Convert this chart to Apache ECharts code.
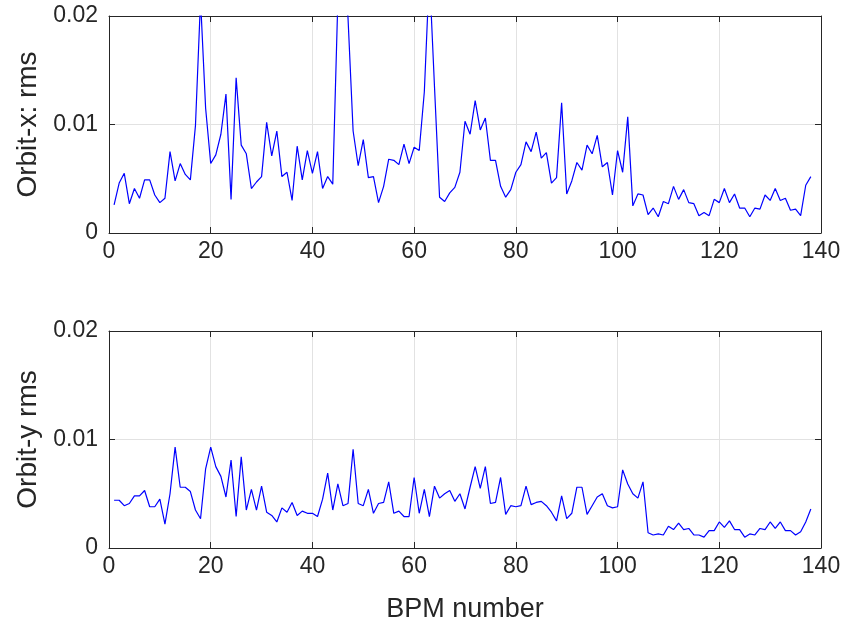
<!DOCTYPE html>
<html>
<head>
<meta charset="utf-8">
<script src="https://cdn.jsdelivr.net/npm/echarts@6/dist/echarts.min.js"></script>
<style>
html,body{margin:0;padding:0;background:#fff;}
#chart{width:857px;height:627px;}
</style>
</head>
<body>
<div id="chart"></div>
<script>
// BPM index runs 1..138 (one value per BPM)
var orbitX = [
0.0026,0.0046,0.0055,0.0027,0.0041,0.0032,0.0049,0.0049,0.0035,0.0028,
0.0032,0.0075,0.0048,0.0064,0.0054,0.0049,0.0099,0.0215,0.0115,0.0064,
0.0072,0.0091,0.0128,0.0031,0.0143,0.0081,0.0073,0.0041,0.0047,0.0052,
0.0102,0.0071,0.0094,0.0052,0.0056,0.0030,0.0080,0.0049,0.0076,0.0055,
0.0075,0.0041,0.0052,0.0045,0.0215,0.0260,0.0198,0.0094,0.0062,0.0086,
0.0051,0.0052,0.0028,0.0043,0.0068,0.0067,0.0063,0.0082,0.0064,0.0079,
0.0076,0.0130,0.0240,0.0135,0.0033,0.0029,0.0037,0.0042,0.0056,0.0103,
0.0091,0.0122,0.0095,0.0106,0.0067,0.0067,0.0043,0.0033,0.0040,0.0056,
0.0063,0.0084,0.0075,0.0093,0.0069,0.0074,0.0046,0.0051,0.0120,0.0036,
0.0048,0.0065,0.0058,0.0081,0.0073,0.0090,0.0061,0.0065,0.0035,0.0076,
0.0056,0.0107,0.0025,0.0036,0.0035,0.0017,0.0023,0.0015,0.0029,0.0027,
0.0043,0.0031,0.0040,0.0028,0.0027,0.0016,0.0019,0.0016,0.0031,0.0028,
0.0041,0.0028,0.0036,0.0023,0.0023,0.0015,0.0023,0.0022,0.0035,0.0030,
0.0041,0.0030,0.0032,0.0021,0.0022,0.0016,0.0044,0.0052
];
var orbitY = [
0.0044,0.0044,0.0039,0.0041,0.0048,0.0048,0.0053,0.0038,0.0038,0.0045,
0.0022,0.0050,0.0093,0.0056,0.0056,0.0052,0.0035,0.0027,0.0073,0.0093,
0.0075,0.0066,0.0047,0.0081,0.0029,0.0084,0.0035,0.0054,0.0035,0.0057,
0.0033,0.0030,0.0024,0.0037,0.0033,0.0042,0.0030,0.0034,0.0032,0.0032,
0.0029,0.0045,0.0069,0.0035,0.0059,0.0039,0.0041,0.0091,0.0041,0.0039,
0.0054,0.0032,0.0041,0.0042,0.0061,0.0032,0.0034,0.0029,0.0029,0.0065,
0.0032,0.0054,0.0029,0.0057,0.0046,0.0050,0.0053,0.0043,0.0050,0.0036,
0.0056,0.0075,0.0055,0.0075,0.0041,0.0042,0.0065,0.0031,0.0039,0.0038,
0.0039,0.0057,0.0040,0.0042,0.0043,0.0039,0.0033,0.0025,0.0048,0.0027,
0.0032,0.0056,0.0056,0.0031,0.0039,0.0047,0.0050,0.0039,0.0037,0.0038,
0.0072,0.0059,0.0050,0.0046,0.0061,0.0014,0.0012,0.0013,0.0012,0.0020,
0.0017,0.0023,0.0017,0.0018,0.0012,0.0012,0.0010,0.0016,0.0016,0.0024,
0.0019,0.0025,0.0017,0.0017,0.0010,0.0013,0.0012,0.0018,0.0017,0.0024,
0.0018,0.0024,0.0016,0.0016,0.0012,0.0015,0.0024,0.0036
];
var xTicks = [0, 20, 40, 60, 80, 100, 120, 140];
var yTickLabels = ['0', '0.01', '0.02'];
var xLabel = 'BPM number';
var yLabelTop = 'Orbit-x: rms';
var yLabelBottom = 'Orbit-y rms';

function pairs(arr){ return arr.map(function(v,i){ return [i+1, v]; }); }

var FONT = "'Liberation Sans', Arial, Helvetica, sans-serif";
var AX = '#262626';
var GRIDC = '#e2e2e2';

function xAx(grid, pos, main, withName){
  var o = {
    type:'value', gridIndex:grid, position:pos,
    min:xTicks[0], max:xTicks[xTicks.length-1], interval:20,
    axisLine:{show:true, onZero:false, lineStyle:{color:AX, width:1}},
    axisTick:{show:true, inside:true, length:6, lineStyle:{color:AX}},
    splitLine:{show:main, lineStyle:{color:GRIDC, width:1}},
    axisLabel:{show:main, fontSize:23, color:AX, fontFamily:FONT, margin:7}
  };
  if(withName){
    o.name = xLabel; o.nameLocation='middle'; o.nameGap=48;
    o.nameTextStyle={fontSize:27, color:AX, fontFamily:FONT};
  }
  return o;
}
function yAx(grid, pos, main, name){
  var o = {
    type:'value', gridIndex:grid, position:pos,
    min:0, max:0.02, interval:0.01,
    axisLine:{show:true, onZero:false, lineStyle:{color:AX, width:1}},
    axisTick:{show:true, inside:true, length:6, lineStyle:{color:AX}},
    splitLine:{show:main, lineStyle:{color:GRIDC, width:1}},
    axisLabel:{show:main, fontSize:23, color:AX, fontFamily:FONT, margin:11,
      formatter:function(v){ var k=Math.round(v/0.01); return yTickLabels[k]; }}
  };
  if(name){
    o.name = name; o.nameLocation='middle'; o.nameGap=64; o.nameRotate=90;
    o.nameTextStyle={fontSize:28, color:AX, fontFamily:FONT};
  }
  return o;
}

var chart = echarts.init(document.getElementById('chart'), null, {renderer:'canvas'});
chart.setOption({
  animation:false,
  backgroundColor:'#fff',
  grid:[
    {left:109, right:36, top:16, height:217},
    {left:109, right:36, top:331, height:217}
  ],
  xAxis:[ xAx(0,'bottom',true,false), xAx(0,'top',false,false),
          xAx(1,'bottom',true,true),  xAx(1,'top',false,false) ],
  yAxis:[ yAx(0,'left',true,yLabelTop), yAx(0,'right',false,null),
          yAx(1,'left',true,yLabelBottom), yAx(1,'right',false,null) ],
  series:[
    {type:'line', xAxisIndex:0, yAxisIndex:0, data:pairs(orbitX), showSymbol:false,
     clip:true, lineStyle:{color:'#0000ff', width:1.2}},
    {type:'line', xAxisIndex:2, yAxisIndex:2, data:pairs(orbitY), showSymbol:false,
     clip:true, lineStyle:{color:'#0000ff', width:1.2}}
  ]
});
</script>
</body>
</html>
